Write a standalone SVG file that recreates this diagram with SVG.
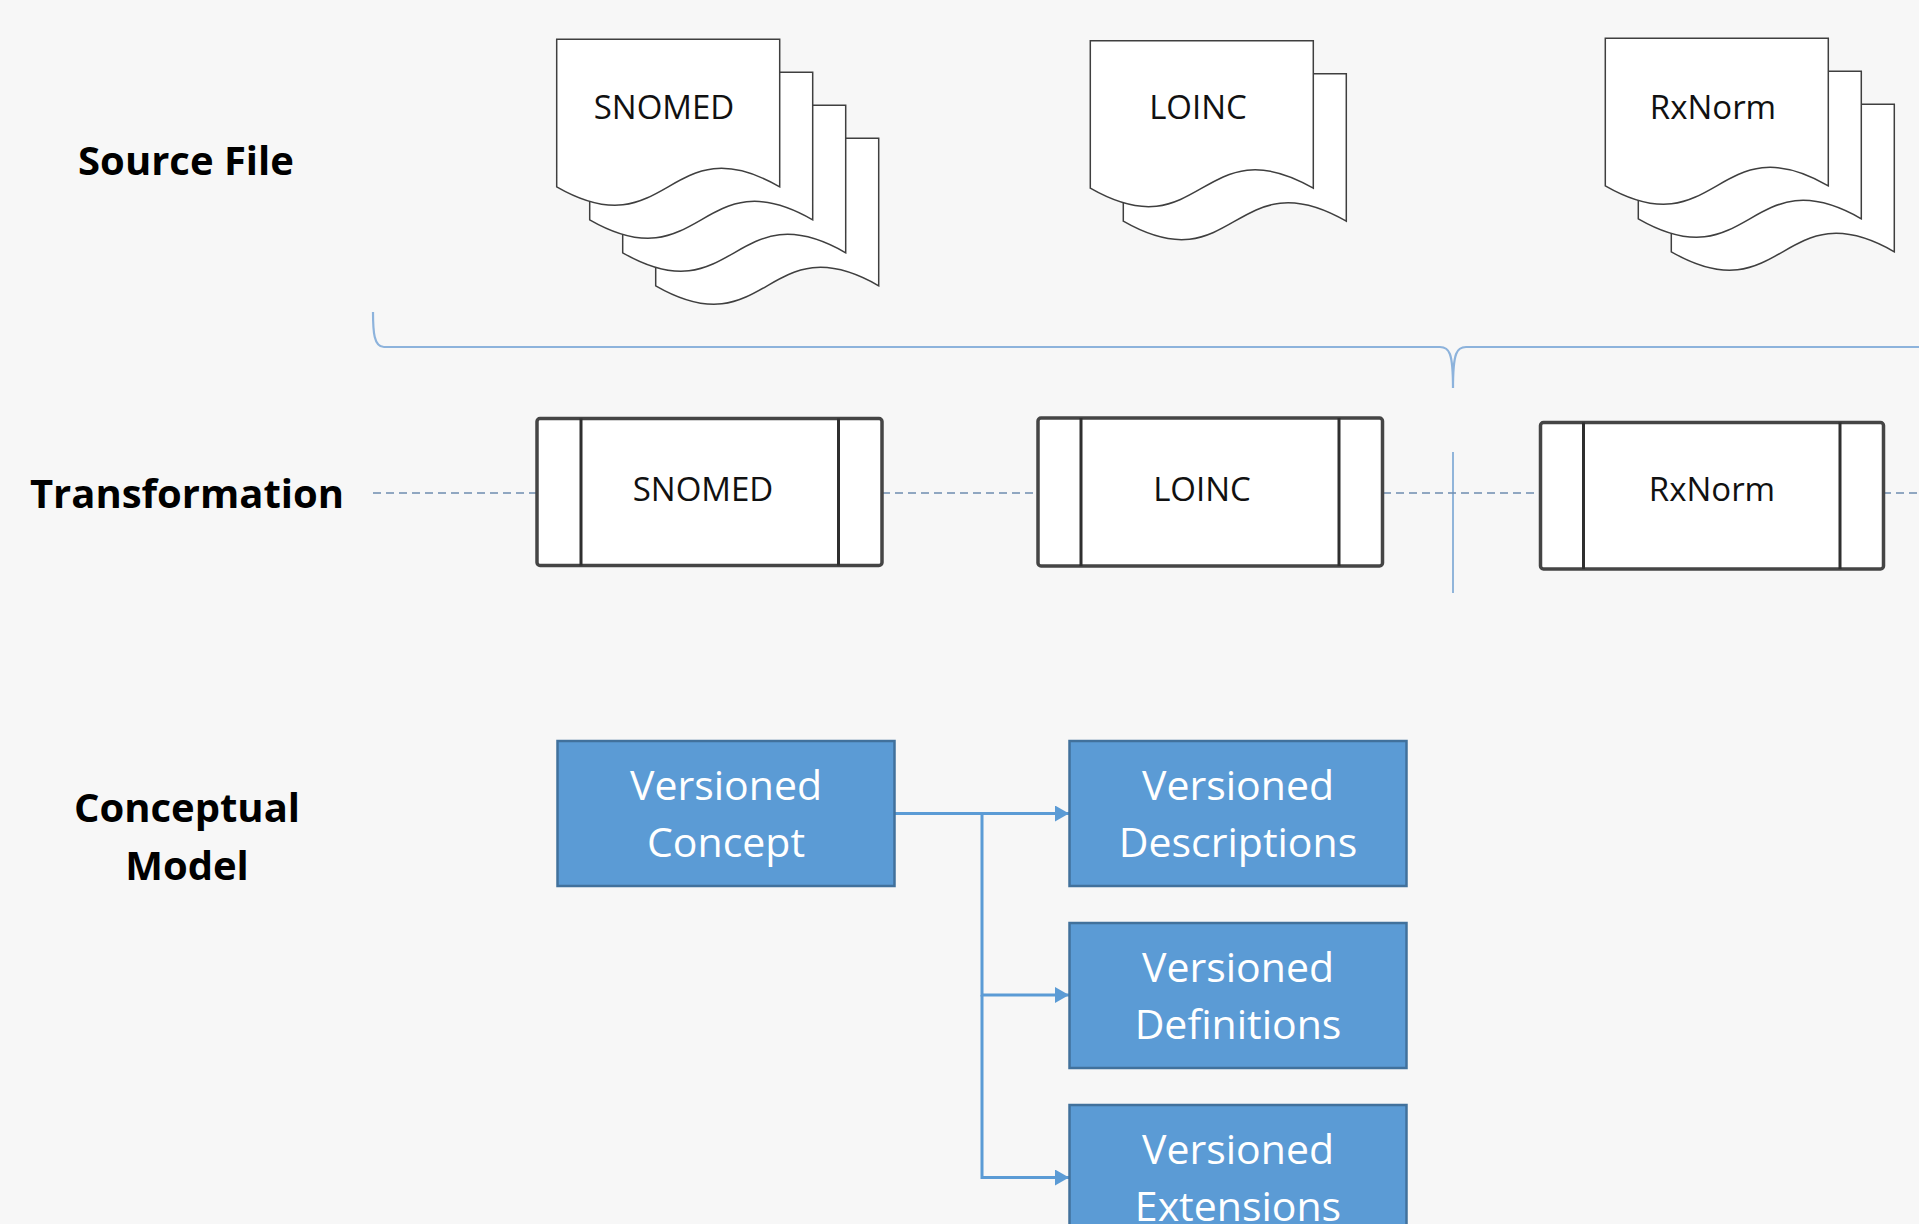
<svg xmlns="http://www.w3.org/2000/svg" xmlns:xlink="http://www.w3.org/1999/xlink" width="1919" height="1224" viewBox="0 0 1919 1224">
<style>
.bg{fill:#f7f7f7}
.sheet{fill:#ffffff;stroke:#3f3f3f;stroke-width:1.5}
.lbl{font-family:"Open Sans","Liberation Sans",sans-serif;font-weight:bold;font-size:40px;fill:#000;text-anchor:middle}
.doct{font-family:"Open Sans","Liberation Sans",sans-serif;font-size:33px;fill:#111;text-anchor:middle}
.proc{fill:#ffffff;stroke:#454545;stroke-width:3.5}
.procl{stroke:#2f2f2f;stroke-width:3;fill:none}
.box{fill:#5b9bd5;stroke:#41719c;stroke-width:2.5}
.boxt{font-family:"Open Sans","Liberation Sans",sans-serif;font-size:41px;fill:#fff;text-anchor:middle}
.conn{fill:none;stroke:#5b9bd5;stroke-width:3}
.dash{stroke:#6f8db0;stroke-width:1.5;stroke-dasharray:8 5;fill:none}
.brace{fill:none;stroke:#8db3dc;stroke-width:2.2}
</style>
<defs>
<path id="doc" d="M0 147.5 V0 H223 V147.5 C111.5 83.5 111.5 211.5 0 147.5 Z"/>
<marker id="arr" markerUnits="userSpaceOnUse" markerWidth="15" markerHeight="16" refX="14" refY="8" orient="auto">
<path d="M0 0 L14 8 L0 16 Z" fill="#5b9bd5"/>
</marker>
</defs>
<rect class="bg" x="0" y="0" width="1919" height="1224"/>

<g id="label-source"><text class="lbl" x="186" y="175">Source File</text></g>
<g id="label-transformation"><text class="lbl" x="187" y="508">Transformation</text></g>
<g id="label-conceptual"><text class="lbl" x="187" y="822">Conceptual</text><text class="lbl" x="187" y="880">Model</text></g>

<g id="doc-snomed">
<use xlink:href="#doc" href="#doc" class="sheet" x="655.7" y="138.3"/>
<use xlink:href="#doc" href="#doc" class="sheet" x="622.7" y="105.3"/>
<use xlink:href="#doc" href="#doc" class="sheet" x="589.7" y="72.3"/>
<use xlink:href="#doc" href="#doc" class="sheet" x="556.7" y="39.3"/>
<text class="doct" x="664" y="119">SNOMED</text>
</g>
<g id="doc-loinc">
<use xlink:href="#doc" href="#doc" class="sheet" x="1123.3" y="73.7"/>
<use xlink:href="#doc" href="#doc" class="sheet" x="1090.3" y="40.7"/>
<text class="doct" x="1198" y="119">LOINC</text>
</g>
<g id="doc-rxnorm">
<use xlink:href="#doc" href="#doc" class="sheet" x="1671.3" y="104.3"/>
<use xlink:href="#doc" href="#doc" class="sheet" x="1638.3" y="71.3"/>
<use xlink:href="#doc" href="#doc" class="sheet" x="1605.3" y="38.3"/>
<text class="doct" x="1713" y="119">RxNorm</text>
</g>

<g id="brace">
<path class="brace" d="M373 312 C373 332 374 347 384 347 H1440 C1449 347 1453 352 1453 388 C1453 352 1457 347 1466 347 H1919"/>
<path d="M1453 452 V593" stroke="#6f9fd0" stroke-width="1.5" fill="none"/>
</g>

<g id="dashes">
<path class="dash" d="M373 493 H536 M882 493 H1038 M1383 493 H1540 M1883 493 H1919"/>
</g>

<g id="proc-snomed">
<rect class="proc" x="537" y="418.5" width="345" height="147" rx="3"/>
<path class="procl" d="M581 418.5 V565.5 M838.5 418.5 V565.5"/>
<text class="doct" x="703" y="501">SNOMED</text>
</g>
<g id="proc-loinc">
<rect class="proc" x="1038" y="418" width="344.5" height="148" rx="3"/>
<path class="procl" d="M1081 418 V566 M1339 418 V566"/>
<text class="doct" x="1202" y="501">LOINC</text>
</g>
<g id="proc-rxnorm">
<rect class="proc" x="1540.5" y="422.5" width="343" height="146.5" rx="3"/>
<path class="procl" d="M1583.5 422.5 V569 M1840 422.5 V569"/>
<text class="doct" x="1712" y="501">RxNorm</text>
</g>

<g id="connectors">
<path class="conn" d="M895 813.5 H1069" marker-end="url(#arr)"/>
<path class="conn" d="M982 813.5 V995 H1069" marker-end="url(#arr)"/>
<path class="conn" d="M982 995 V1177.5 H1069" marker-end="url(#arr)"/>
</g>

<g id="node-concept">
<rect class="box" x="557.5" y="741" width="337" height="145"/>
<text class="boxt" x="726" y="800">Versioned</text>
<text class="boxt" x="726" y="857">Concept</text>
</g>
<g id="node-descriptions">
<rect class="box" x="1069.5" y="741" width="337" height="145"/>
<text class="boxt" x="1238" y="800">Versioned</text>
<text class="boxt" x="1238" y="857">Descriptions</text>
</g>
<g id="node-definitions">
<rect class="box" x="1069.5" y="923" width="337" height="145"/>
<text class="boxt" x="1238" y="982">Versioned</text>
<text class="boxt" x="1238" y="1039">Definitions</text>
</g>
<g id="node-extensions">
<rect class="box" x="1069.5" y="1105" width="337" height="145"/>
<text class="boxt" x="1238" y="1164">Versioned</text>
<text class="boxt" x="1238" y="1221">Extensions</text>
</g>
</svg>
